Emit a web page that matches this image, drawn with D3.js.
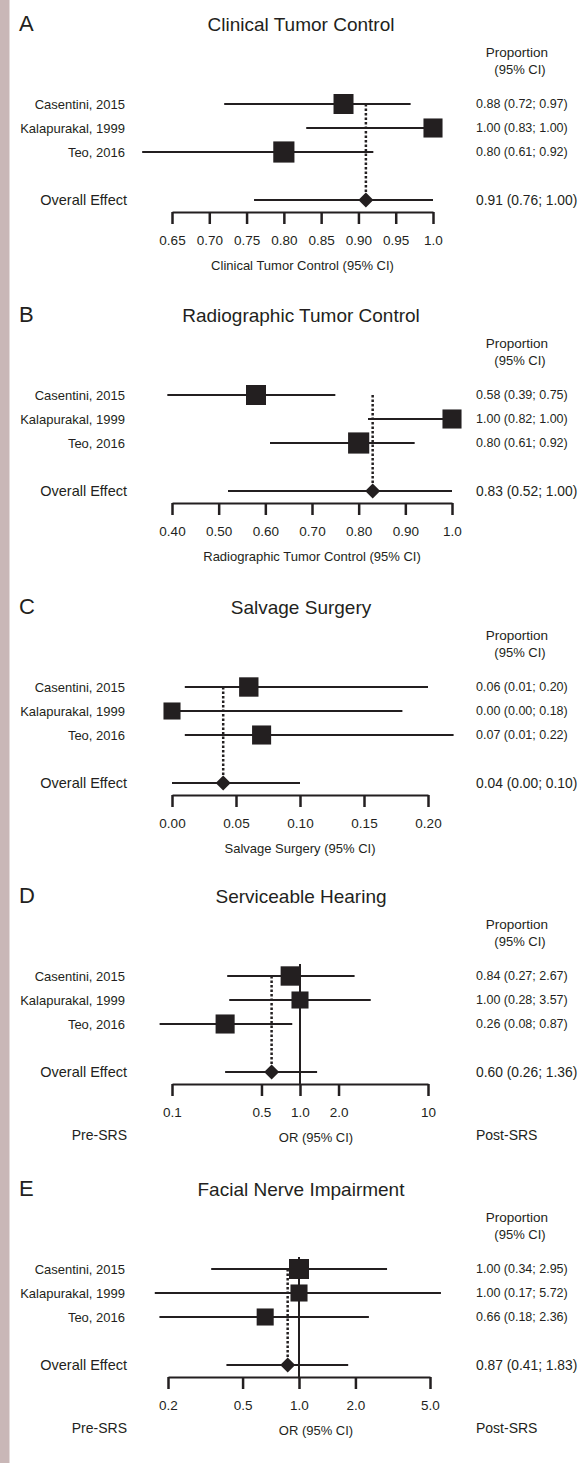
<html>
<head>
  <script src="https://d3js.org/d3.v7.min.js"></script>
  <style>
  body { margin: 0; background: #fff; }
  svg { display: block; font-family: "Liberation Sans", Arial, Helvetica, sans-serif; }
  text { fill: #231f20; }
  .axis path, .axis line { stroke: #231f20; }
  </style>
</head>
<body>
  <svg id="forest" width="586" height="1463"></svg>
  <script>

// studies shown in every panel
var studies = ["Casentini, 2015", "Kalapurakal, 1999", "Teo, 2016"];

var panelLetters = ["A", "B", "C", "D", "E"];
var panelTitles = ["Clinical Tumor Control", "Radiographic Tumor Control", "Salvage Surgery",
  "Serviceable Hearing", "Facial Nerve Impairment"];
var axisTitles = ["Clinical Tumor Control (95% CI)", "Radiographic Tumor Control (95% CI)",
  "Salvage Surgery (95% CI)", "OR (95% CI)", "OR (95% CI)"];

// per panel: one value per study
var estimates = [[0.88, 1.00, 0.80], [0.58, 1.00, 0.80], [0.06, 0.00, 0.07], [0.84, 1.00, 0.26], [1.00, 1.00, 0.66]];
var lowerCI = [[0.72, 0.83, 0.61], [0.39, 0.82, 0.61], [0.01, 0.00, 0.01], [0.27, 0.28, 0.08], [0.34, 0.17, 0.18]];
var upperCI = [[0.97, 1.00, 0.92], [0.75, 1.00, 0.92], [0.20, 0.18, 0.22], [2.67, 3.57, 0.87], [2.95, 5.72, 2.36]];
var weights = [[33, 30, 37], [33, 30, 37], [31, 24, 30], [31, 24, 30], [33, 24, 24]];

// pooled effect
var overallEst = [0.91, 0.83, 0.04, 0.60, 0.87];
var overallLower = [0.76, 0.52, 0.00, 0.26, 0.41];
var overallUpper = [1.00, 1.00, 0.10, 1.36, 1.83];

// axes
var scaleTypes = ["linear", "linear", "linear", "log", "log"];
var domains = [[0.65, 1.0], [0.40, 1.0], [0.00, 0.20], [0.1, 10], [0.2, 5]];
var tickValues = [
  [0.65, 0.70, 0.75, 0.80, 0.85, 0.90, 0.95, 1.0],
  [0.40, 0.50, 0.60, 0.70, 0.80, 0.90, 1.0],
  [0.00, 0.05, 0.10, 0.15, 0.20],
  [0.1, 0.5, 1.0, 2.0, 10],
  [0.2, 0.5, 1.0, 2.0, 5.0]];
var tickLabels = [
  ["0.65", "0.70", "0.75", "0.80", "0.85", "0.90", "0.95", "1.0"],
  ["0.40", "0.50", "0.60", "0.70", "0.80", "0.90", "1.0"],
  ["0.00", "0.05", "0.10", "0.15", "0.20"],
  ["0.1", "0.5", "1.0", "2.0", "10"],
  ["0.2", "0.5", "1.0", "2.0", "5.0"]];

// layout
var svg = d3.select("#forest");
var ink = "#231f20";
var panelTop = [0, 291, 583, 872, 1165];
var axisLeft = [172, 172, 172, 172, 168];
var axisRight = [433, 452, 428, 428, 430];
var rowY = [104, 128, 152];
var overallY = 200, axisY = 212;
var labelX = 125, valueX = 476;
var fmt = d3.format(".2f");

var boxSide = d3.scaleSqrt().domain([0, 100]).range([0, 34.8]);

svg.append("rect").attr("x", 0).attr("y", 0).attr("width", 586).attr("height", 1463).attr("fill", "#fff");
svg.append("rect").attr("x", 0).attr("y", 0).attr("width", 9.5).attr("height", 1463).attr("fill", "#c9b7b7");

for (var p = 0; p < panelLetters.length; p++) {
  var g = svg.append("g").attr("transform", "translate(0," + panelTop[p] + ")");

  var x = (scaleTypes[p] == "log" ? d3.scaleLog() : d3.scaleLinear())
    .domain(domains[p])
    .range([axisLeft[p], axisRight[p]]);

  // headings
  g.append("text").attr("x", 19).attr("y", 31).style("font-size", "22px").text(panelLetters[p]);
  g.append("text").attr("x", 301).attr("y", 31).attr("text-anchor", "middle")
    .style("font-size", "19px").text(panelTitles[p]);
  g.append("text").attr("x", 517).attr("y", 57).attr("text-anchor", "middle")
    .style("font-size", "13.5px").text("Proportion");
  g.append("text").attr("x", 520).attr("y", 74).attr("text-anchor", "middle")
    .style("font-size", "13px").text("(95% CI)");

  // axis
  var labels = tickLabels[p];
  var axis = g.append("g")
    .attr("class", "axis")
    .attr("transform", "translate(0," + axisY + ")")
    .call(d3.axisBottom(x)
      .tickValues(tickValues[p])
      .tickFormat(function(d, i) { return labels[i]; })
      .tickSize(12)
      .tickSizeOuter(0)
      .tickPadding(11));
  axis.select(".domain").attr("stroke-width", 2).attr("stroke", ink);
  axis.selectAll(".tick line").attr("stroke-width", 2.5).attr("stroke", ink);
  axis.selectAll(".tick text").style("font-size", "13.5px").style("font-family", null).attr("fill", ink);

  if (scaleTypes[p] == "log") {
    // line of no effect
    g.append("line")
      .attr("x1", x(1)).attr("x2", x(1))
      .attr("y1", rowY[0] - 12).attr("y2", axisY)
      .attr("stroke", ink).attr("stroke-width", 2);
    g.append("text").attr("x", 316).attr("y", 270).attr("text-anchor", "middle")
      .style("font-size", "13px").text(axisTitles[p]);
    g.append("text").attr("x", 127).attr("y", 268).attr("text-anchor", "end")
      .style("font-size", "14px").text("Pre-SRS");
    g.append("text").attr("x", valueX).attr("y", 268)
      .style("font-size", "14px").text("Post-SRS");
  } else {
    g.append("text").attr("x", (axisLeft[p] + axisRight[p]) / 2).attr("y", 270).attr("text-anchor", "middle")
      .style("font-size", "13px").text(axisTitles[p]);
  }

  // dotted line at the pooled estimate
  g.append("line")
    .attr("x1", x(overallEst[p])).attr("x2", x(overallEst[p]))
    .attr("y1", rowY[0]).attr("y2", overallY)
    .attr("stroke", ink).attr("stroke-width", 2.5)
    .attr("stroke-dasharray", "2.5,2");

  var rows = studies.map(function(s, i) {
    return {name: s, est: estimates[p][i], lo: lowerCI[p][i], hi: upperCI[p][i], w: weights[p][i], y: rowY[i]};
  });

  var row = g.selectAll(".study").data(rows).enter().append("g").attr("class", "study");

  row.append("text")
    .attr("x", labelX).attr("y", function(d) { return d.y; })
    .attr("dy", "0.35em").attr("text-anchor", "end")
    .style("font-size", "13px")
    .text(function(d) { return d.name; });

  row.append("line")
    .attr("x1", function(d) { return x(d.lo); })
    .attr("x2", function(d) { return x(d.hi); })
    .attr("y1", function(d) { return d.y; })
    .attr("y2", function(d) { return d.y; })
    .attr("stroke", ink).attr("stroke-width", 2);

  row.append("rect")
    .attr("x", function(d) { return x(d.est) - boxSide(d.w) / 2; })
    .attr("y", function(d) { return d.y - boxSide(d.w) / 2; })
    .attr("width", function(d) { return boxSide(d.w); })
    .attr("height", function(d) { return boxSide(d.w); })
    .attr("fill", ink);

  row.append("text")
    .attr("x", valueX).attr("y", function(d) { return d.y; })
    .attr("dy", "0.35em")
    .style("font-size", "12.5px")
    .text(function(d) { return fmt(d.est) + " (" + fmt(d.lo) + "; " + fmt(d.hi) + ")"; });

  // pooled effect row
  g.append("text")
    .attr("x", 127).attr("y", overallY).attr("dy", "0.35em").attr("text-anchor", "end")
    .style("font-size", "14.5px").text("Overall Effect");
  g.append("line")
    .attr("x1", x(overallLower[p])).attr("x2", x(overallUpper[p]))
    .attr("y1", overallY).attr("y2", overallY)
    .attr("stroke", ink).attr("stroke-width", 2);
  var cx = x(overallEst[p]);
  g.append("path")
    .attr("d", "M" + (cx - 7.5) + "," + overallY + "L" + cx + "," + (overallY - 7.5) +
      "L" + (cx + 7.5) + "," + overallY + "L" + cx + "," + (overallY + 7.5) + "Z")
    .attr("fill", ink);
  g.append("text")
    .attr("x", valueX).attr("y", overallY).attr("dy", "0.35em")
    .style("font-size", "13.8px")
    .text(fmt(overallEst[p]) + " (" + fmt(overallLower[p]) + "; " + fmt(overallUpper[p]) + ")");
}

  </script>
</body>
</html>
